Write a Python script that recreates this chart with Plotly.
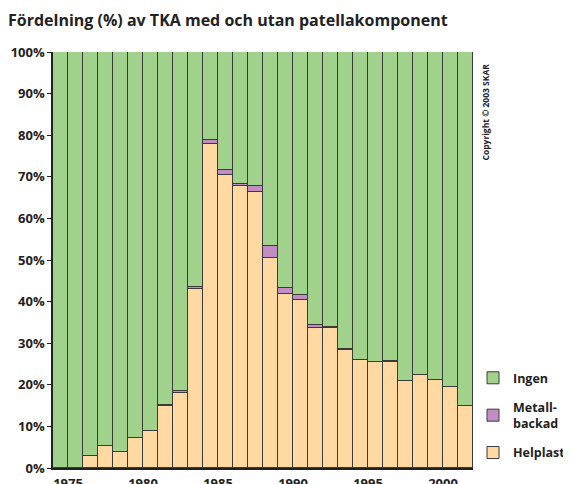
import plotly.graph_objects as go

years = list(range(1975, 2003))
helplast = [0, 0, 3.0, 5.4, 3.8, 7.3, 9.0, 14.9, 18.0, 43.0, 77.8, 70.4, 67.9, 66.4,
            50.6, 41.8, 40.5, 33.6, 33.6, 28.4, 26.0, 25.4, 25.4, 21.0, 22.3, 21.1, 19.5, 14.9]
metall = [0, 0, 0, 0, 0, 0, 0, 0.2, 0.5, 0.5, 1.0, 1.2, 0.3, 1.4,
          2.7, 1.4, 1.2, 0.8, 0.3, 0.3, 0, 0, 0.3, 0, 0, 0, 0, 0]
ingen = [round(100 - h - m, 2) for h, m in zip(helplast, metall)]

y_ticks = list(range(0, 101, 10))
y_labels = [f"{v}%" for v in y_ticks]
x_ticks = [1975, 1980, 1985, 1990, 1995, 2000]

FONT = "Open Sans"
line = dict(color="#3a3a3a", width=1)

fig = go.Figure()
series = [("Helplast", helplast, "#ffd9a1", 3),
          ("Metall-<br>backad", metall, "#c28dc4", 2),
          ("Ingen", ingen, "#a0d28b", 1)]
for name, vals, col, rank in series:
    fig.add_trace(go.Bar(
        x=years, y=vals, name=name, width=1, offset=-1,
        marker=dict(color=col, line=line), legendgroup=name, legendrank=rank,
    ))

# the page body has an 8px margin, so the figure is sized to fit the window
fig.update_layout(
    width=563, height=476,
    margin=dict(l=45, r=98, t=44, b=16, autoexpand=False),
    barmode="stack", bargap=0,
    plot_bgcolor="white", paper_bgcolor="white",
    font=dict(family=FONT, color="#222222"),
    title=dict(text="<b>Fördelning (%) av TKA med och utan patellakomponent</b>",
               x=0.0, xanchor="left", y=0.973, yanchor="middle",
               font=dict(size=16, family=FONT, color="#222222")),
    legend=dict(x=1.0, xanchor="left", y=0.252, yanchor="top",
                traceorder="grouped", tracegroupgap=10,
                font=dict(size=12.5, family=FONT, color="#222222", weight="bold"),
                bgcolor="rgba(0,0,0,0)"),
    xaxis=dict(range=[1974, 2002], tickvals=x_ticks, ticktext=[str(v) for v in x_ticks],
               showgrid=False, showline=True, linecolor="#222222", linewidth=1.5,
               ticks="outside", ticklen=3, tickcolor="rgba(0,0,0,0)",
               tickfont=dict(size=13, family=FONT, weight="bold"), zeroline=False),
    yaxis=dict(range=[0, 100], tickvals=y_ticks, ticktext=y_labels,
               showgrid=False, showline=True, linecolor="#222222", linewidth=1.5,
               ticks="outside", ticklen=4, tickcolor="#222222",
               tickfont=dict(size=13, family=FONT, weight="bold"), zeroline=False),
    annotations=[dict(text="<b>Copyright © 2003 SKAR</b>", xref="paper", yref="paper",
                      x=1.029, y=0.855, xanchor="center", yanchor="middle",
                      textangle=-90, showarrow=False,
                      font=dict(size=8.5, family=FONT, color="#222222"))],
)

fig.write_html("out.html")
